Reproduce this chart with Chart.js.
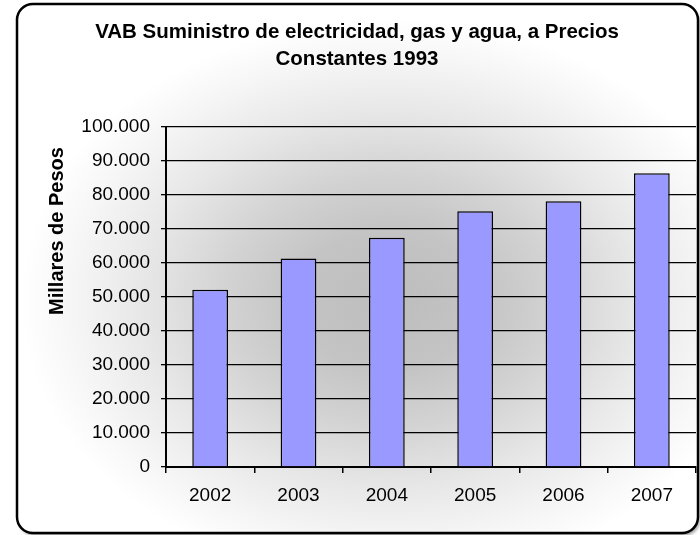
<!DOCTYPE html>
<html>
<head>
<meta charset="utf-8">
<script src="https://cdn.jsdelivr.net/npm/chart.js@4.4.0/dist/chart.umd.min.js"></script>
<style>
  body { margin: 0; background: #fff; }
  canvas { display: block; }
</style>
</head>
<body>
<canvas id="vabChart" width="700" height="535"></canvas>
<script>
// data
const years = ['2002', '2003', '2004', '2005', '2006', '2007'];
const vabValues = [52100, 61300, 67400, 75200, 78150, 86400];
const titleLines = ['VAB Suministro de electricidad, gas y agua, a Precios', 'Constantes 1993'];
const yAxisTitle = 'Millares de Pesos';
const yMin = 0;
const yMax = 100000;
const yStep = 10000;

const FONT = "'Liberation Sans', Arial, sans-serif";

function fmtMiles(v) {
  return String(v).replace(/\B(?=(\d{3})+(?!\d))/g, '.');
}

function roundRect(ctx, x, y, w, h, r) {
  ctx.beginPath();
  ctx.moveTo(x + r, y);
  ctx.lineTo(x + w - r, y);
  ctx.arcTo(x + w, y, x + w, y + r, r);
  ctx.lineTo(x + w, y + h - r);
  ctx.arcTo(x + w, y + h, x + w - r, y + h, r);
  ctx.lineTo(x + r, y + h);
  ctx.arcTo(x, y + h, x, y + h - r, r);
  ctx.lineTo(x, y + r);
  ctx.arcTo(x, y, x + r, y, r);
  ctx.closePath();
}

// ================================
// Background: grey radial fill inside a rounded frame
// ================================
const frameBackground = {
  id: 'frameBackground',
  beforeDraw(chart) {
    const ctx = chart.ctx;
    ctx.save();
    ctx.fillStyle = '#fff';
    ctx.fillRect(0, 0, chart.width, chart.height);

    roundRect(ctx, 17, 4, 681, 529, 16);
    ctx.save();
    ctx.shadowColor = 'rgba(0,0,0,0.35)';
    ctx.shadowOffsetX = 2;
    ctx.shadowOffsetY = 3;
    ctx.shadowBlur = 3;
    ctx.fillStyle = '#fff';
    ctx.fill();
    ctx.restore();

    ctx.save();
    ctx.clip();
    ctx.translate(390, 300);
    ctx.scale(1.12, 0.85);
    const g = ctx.createRadialGradient(0, 0, 0, 0, 0, 330);
    g.addColorStop(0, '#bdbdbd');
    g.addColorStop(0.25, '#c4c4c4');
    g.addColorStop(0.45, '#d3d3d3');
    g.addColorStop(0.68, '#e8e8e8');
    g.addColorStop(0.88, '#f7f7f7');
    g.addColorStop(1, '#ffffff');
    ctx.fillStyle = g;
    ctx.fillRect(-400, -400, 800, 800);
    ctx.restore();

    ctx.lineWidth = 2.5;
    ctx.strokeStyle = '#000';
    ctx.stroke();
    ctx.restore();
  }
};

// y axis title sits higher than the plot centre, so place it by hand
const yTitle = {
  id: 'yTitle',
  afterDraw(chart) {
    const ctx = chart.ctx;
    ctx.save();
    ctx.translate(57, 231);
    ctx.rotate(-Math.PI / 2);
    ctx.font = 'bold 20px ' + FONT;
    ctx.fillStyle = '#000';
    ctx.textAlign = 'center';
    ctx.textBaseline = 'middle';
    ctx.fillText(yAxisTitle, 0, 0);
    ctx.restore();
  }
};

const ctx = document.getElementById('vabChart').getContext('2d');
const vabChart = new Chart(ctx, {
  type: 'bar',
  data: {
    labels: years,
    datasets: [{
      data: vabValues,
      backgroundColor: '#9999ff',
      borderColor: '#000',
      borderWidth: 1.5,
      barPercentage: 0.405,
      categoryPercentage: 1
    }]
  },
  options: {
    responsive: false,
    animation: false,
    layout: { padding: { left: 18, right: 4, top: 0, bottom: 0 } },
    plugins: {
      legend: { display: false },
      tooltip: { enabled: false },
      title: {
        display: true,
        text: titleLines,
        color: '#000',
        font: { family: FONT, size: 20.5, weight: 'bold', lineHeight: '27px' },
        padding: { top: 19, bottom: 54 }
      }
    },
    scales: {
      x: {
        afterFit: (scale) => { scale.height = 68; },
        grid: { drawOnChartArea: false, drawTicks: true, tickLength: 6, color: '#000', lineWidth: 1.5, offset: true },
        border: { display: true, color: '#000', width: 2 },
        ticks: { color: '#000', padding: 11, font: { family: FONT, size: 19 } }
      },
      y: {
        min: yMin,
        max: yMax,
        afterFit: (scale) => { scale.width = 148; },
        grid: { color: '#000', lineWidth: 1.3, tickLength: 5 },
        border: { display: true, color: '#000', width: 2 },
        ticks: {
          stepSize: yStep,
          color: '#000',
          padding: 11,
          font: { family: FONT, size: 19 },
          callback: (v) => fmtMiles(v)
        }
      }
    }
  },
  plugins: [frameBackground, yTitle]
});
</script>
</body>
</html>
